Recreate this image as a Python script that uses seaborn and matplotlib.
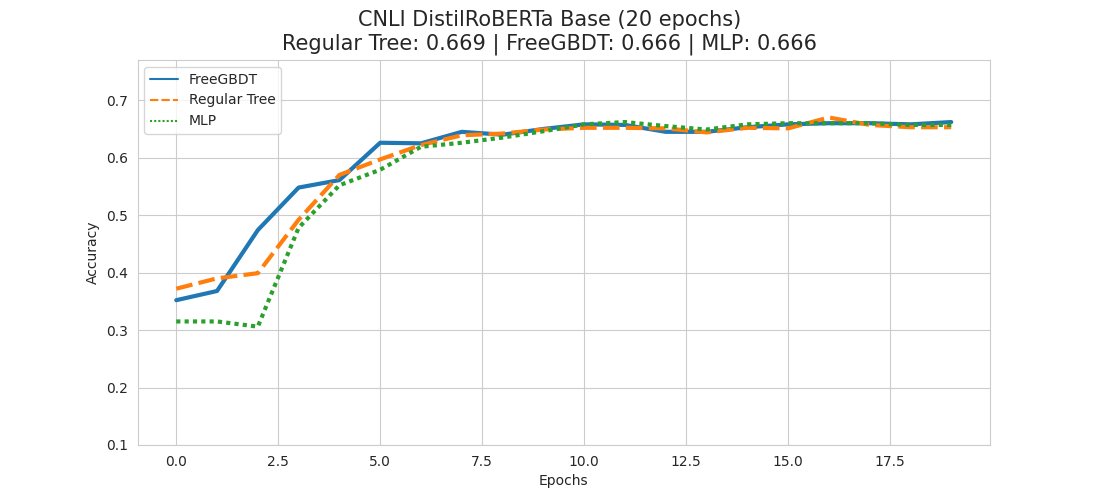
import matplotlib
matplotlib.use("Agg")
import matplotlib.pyplot as plt
import numpy as np
import pandas as pd
import seaborn as sns

# %% data

epochs = list(range(20))
freegbdt = [0.352, 0.368, 0.474, 0.548, 0.561, 0.626, 0.625, 0.645, 0.640, 0.650,
            0.658, 0.657, 0.645, 0.645, 0.653, 0.658, 0.660, 0.660, 0.658, 0.662]
regular_tree = [0.372, 0.390, 0.399, 0.492, 0.570, 0.597, 0.622, 0.639, 0.642, 0.649,
                0.652, 0.652, 0.651, 0.644, 0.652, 0.651, 0.670, 0.657, 0.653, 0.653]
mlp = [0.315, 0.315, 0.306, 0.478, 0.552, 0.579, 0.619, 0.626, 0.635, 0.646,
       0.658, 0.662, 0.655, 0.649, 0.658, 0.660, 0.660, 0.660, 0.657, 0.657]
models = ["FreeGBDT", "Regular Tree", "MLP"]

df = pd.DataFrame({"Epochs": epochs * 3,
                   "Accuracy": freegbdt + regular_tree + mlp,
                   "Model": np.repeat(models, len(epochs))})

# %% plot

sns.set_style("whitegrid")
fig, ax = plt.subplots(figsize=(11, 5), dpi=100)
sns.lineplot(data=df, x="Epochs", y="Accuracy", hue="Model", style="Model",
             hue_order=models, style_order=models, linewidth=3, ax=ax)
ax.set_ylim(0.1, 0.77)
fig.suptitle("CNLI DistilRoBERTa Base (20 epochs)\n"
             "Regular Tree: 0.669 | FreeGBDT: 0.666 | MLP: 0.666", fontsize=15)
leg = ax.legend(loc="upper left")
# legend keys are drawn thinner than the plotted lines
for h in leg.get_lines():
    h.set_linewidth(1.5)
fig.savefig("out.png", dpi=100)
